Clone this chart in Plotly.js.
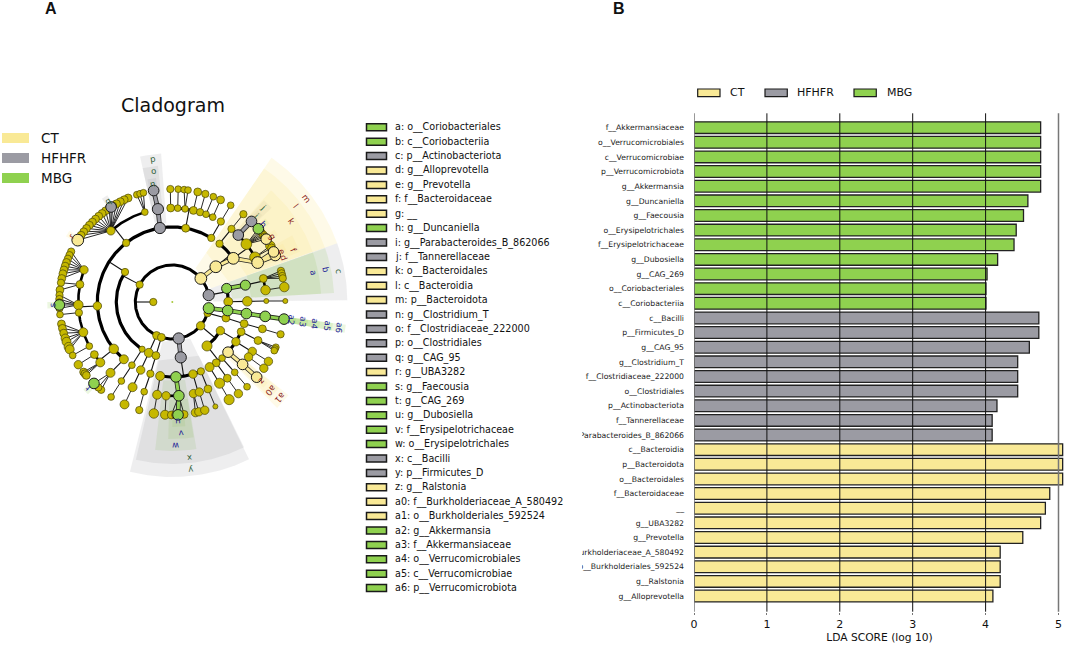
<!DOCTYPE html>
<html>
<head>
<meta charset="utf-8">
<script src="https://cdn.plot.ly/plotly-3.0.1.min.js"></script>
<style>html,body{margin:0;padding:0;background:#fff}#chart{width:1065px;height:646px}</style>
</head>
<body>
<div id="chart"></div>
<script>
// ---------- LDA bar values ----------
const mbgTaxa = ['f__Akkermansiaceae','o__Verrucomicrobiales','c__Verrucomicrobiae','p__Verrucomicrobiota','g__Akkermansia','g__Duncaniella','g__Faecousia','o__Erysipelotrichales','f__Erysipelotrichaceae','g__Dubosiella','g__CAG_269','o__Coriobacteriales','c__Coriobacteriia'];
const mbgScores = [4.755,4.755,4.755,4.755,4.755,4.58,4.52,4.42,4.39,4.165,4.02,4.005,4.005];
const hfhfrTaxa = ['c__Bacilli','p__Firmicutes_D','g__CAG_95','g__Clostridium_T','f__Clostridiaceae_222000','o__Clostridiales','p__Actinobacteriota','f__Tannerellaceae','g__Parabacteroides_B_862066'];
const hfhfrScores = [4.73,4.73,4.60,4.44,4.44,4.44,4.156,4.09,4.09];
const ctTaxa = ['c__Bacteroidia','p__Bacteroidota','o__Bacteroidales','f__Bacteroidaceae','__','g__UBA3282','g__Prevotella','f__Burkholderiaceae_A_580492','o__Burkholderiales_592524','g__Ralstonia','g__Alloprevotella'];
const ctScores = [5.057,5.057,5.057,4.88,4.82,4.755,4.51,4.20,4.20,4.20,4.10];
const scoreTicks = [0,1,2,3,4,5];

// ---------- cladogram key ----------
const keyLetters = ['a','b','c','d','e','f','g','h','i','j','k','l','m','n','o','p','q','r','s','t','u','v','w','x','y','z','a0','a1','a2','a3','a4','a5','a6'];
const keyTaxa = ['o__Coriobacteriales','c__Coriobacteriia','p__Actinobacteriota','g__Alloprevotella','g__Prevotella','f__Bacteroidaceae','__','g__Duncaniella','g__Parabacteroides_B_862066','f__Tannerellaceae','o__Bacteroidales','c__Bacteroidia','p__Bacteroidota','g__Clostridium_T','f__Clostridiaceae_222000','o__Clostridiales','g__CAG_95','g__UBA3282','g__Faecousia','g__CAG_269','g__Dubosiella','f__Erysipelotrichaceae','o__Erysipelotrichales','c__Bacilli','p__Firmicutes_D','g__Ralstonia','f__Burkholderiaceae_A_580492','o__Burkholderiales_592524','g__Akkermansia','f__Akkermansiaceae','o__Verrucomicrobiales','c__Verrucomicrobiae','p__Verrucomicrobiota'];
const keyGroups = ['M','M','H','C','C','C','C','M','H','H','C','C','C','H','H','H','H','C','M','M','M','M','M','H','H','C','C','C','M','M','M','M','M'];
// taxonomic depth of each clade marker (2 phylum .. 6 genus), its angular span and its label angle (degrees)
const keyDepth = [4,3,2,6,6,5,6,6,6,5,4,3,2,6,5,4,6,6,6,6,6,5,4,3,2,6,5,4,6,5,4,3,2];
const keyFrom  = [3.2,3.2,0.6,22.8,24.8,21.5,32.3,38.9,44,43.5,19.8,19.6,19.6,97.5,96,94.3,121.3,145.3,180,224.6,270,268.3,263.4,257,256,316.8,315.5,314.7,349.9,349.9,349.9,349.9,349.9];
const keyTo    = [19.4,19.4,19.6,25.3,27.8,29,35.3,41.9,47,48,48.5,55.5,55.5,101.5,102.5,102.5,124.3,148.3,183,227.6,276,279,279.3,296.3,296,319.8,321,321.3,352.5,352.5,352.5,352.5,352.5];
const keyAngle = [11.9,11.8,10.4,21.5,24.9,23.3,33,40.7,45.5,46.3,34.3,37.9,37.8,99.5,98.2,98.1,122.5,146.8,181.4,225.4,272.9,273.7,271.3,276.5,276.4,318.5,318,318.2,351.2,351.2,351.2,351.2,351.2];
const groupNames = {C:'CT',H:'HFHFR',M:'MBG'};

// ---------- cladogram tree: [angle in degrees, node abundance, enriched group, children] ----------
const C='C',H='H',M='M';
const bacteroidota = [39.5,10.5,C,[[39,10.5,C,[
  [51,6.5,0,[[51,6.5,0,[[51,6.5,0]]]]],
  [35.6,10.5,C,[
    [45.4,9.5,H,[[45.5,9.5,H]]],
    [38,9.5,0,[[40.4,9.5,M],[39.2,6.5,0],[38.2,6.5,0],[37.2,6.5,0],[36.2,7,0],[35.2,7,0],[33.8,9.5,C]]],
    [28.4,9.5,0,[[29.8,8.5,0],[28.6,7,0]]],
    [24.8,10.5,C,[[24.3,9.5,C],[26.3,9.5,C]]]
  ]]
]]]];
const actinobacteriota = [10.7,10,H,[
  [14,9,M,[[13,9,M,[
    [14.5,7,0,[[16,6.5,0],[14.7,6.5,0],[13.3,6.5,0],[12.1,6.5,0]]],
    [7.3,8.5,0,[[7.6,8.5,0]]]
  ]]]],
  [0.3,8,0,[[0.5,8.5,0,[[0.6,4.5,0,[[0.5,4.5,0]]]]]]]
]];
const verrucomicrobiota = [350.3,10,M,[[351.2,9.5,M,[[351.1,9.5,M,[[351.2,9.5,M,[[351.3,9.5,M]]]]]]]]];
const minorPhylum = [342.5,6.5,0,[[343.3,7,0,[[343.2,7,0,[[343.4,7,0,[[343.4,6.5,0]]]]]]]]];
const proteobacteria = [320,7.5,0,[
  [329.2,7.5,0,[
    [336.6,7,0,[[335.8,7,0,[[336.4,6,0],[335.4,6,0],[334.5,6,0]]]]],
    [328,7.5,0,[[328.3,7.5,0,[[328.3,7.5,0]]],[324.2,7.5,0,[[324.1,7.5,0]]]]],
    [318,9.5,C,[[318.4,9.5,C,[[318.3,9.5,C]]]]]
  ]],
  [308.3,9,0,[
    [311.6,6,0,[[311.6,6,0,[[311.4,6,0]]]]],
    [305.8,7,0,[[305.8,7,0,[[305.8,7.5,0]]]]],
    [299.8,8,0,[[300.2,9,0,[[300.2,9,0]]]]]
  ]]
]];
const firmicutesD = [280,10,H,[[278.7,10,H,[
  [260.7,8,0,[[260.7,8,0,[[260.6,8.5,0]]]]],
  [272.8,9.5,M,[
    [266.2,7.5,0,[[266.3,8,0]]],
    [274,9.5,M,[[269.5,7,0],[271.6,7,0],[276,7,0],[272.9,9.5,M]]]
  ]],
  [286,7.5,0,[[283,7.5,0,[[281.8,7.5,0],[283.6,7.5,0]]],[286.7,7.5,0,[[286.7,7.5,0]]]]],
  [292.4,6.5,0,[[292.3,7,0,[[292.4,4.5,0]]]]]
]]]];
const phylumB = [252.8,7,0,[[253,7,0,[[253,6.5,0,[[252.6,6,0,[[253,6.5,0]]]]]]]]];
const phylumC = [244.8,7,0,[[245.2,8,0,[[245.1,7.5,0,[[245,8,0,[[245,8,0]]]]]]]]];
const firmicutesA = [152,6.5,0,[
  [147.6,6.5,0,[
    [58.7,6.5,0,[[58.9,6.5,0,[[58.9,6,0]]]]],
    [79.7,7,0,[
      [91,7,0,[[91,6.5,0]]],[86.7,6,0,[[87,6,0]]],[82.2,6,0,[[84,6,0],[82,6,0]]],
      [77,7,0,[[77,7,0]]],[72.8,6.5,0,[[73,6.5,0]]],[69,6,0,[[68.7,6,0]]],[64.5,6,0,[[64.7,7,0]]]
    ]],
    [99.5,10,H,[[98.8,10,H,[[99.5,9.5,H]]]]],
    [128,6.5,0,[
      [107,6,0,[[108.3,6,0],[106.6,6,0],[104.8,6,0]]],
      [130.8,7.5,0,[[113,7,0],[115.2,7,0],[117.4,7,0],[119.6,7,0],[121.8,7,0],[124,7,0],[126.2,7,0],[128.4,7,0],[130.6,7,0],[132.8,7,0],[135,7,0],[137.2,7,0],[139.4,7,0],[141.6,7,0],[143.8,7,0],[122.8,9.5,H],[146.8,10.5,C]]]
    ]],
    [183,7.5,0,[
      [160,7.5,0,[[153.5,6.5,0],[155.5,6.5,0],[157.5,6.5,0],[159.5,7,0],[161.5,7,0],[163.5,7,0],[165.5,7,0],[168,7,0]]],
      [169.2,7,0,[[170.2,6.5,0],[173.9,7,0]]],
      [181.8,8.5,0,[[176.5,6.5,0],[178.5,6.5,0],[180.2,6.5,0],[181.5,9.5,M],[183.2,6.5,0]]],
      [186.5,6.5,0,[[186.4,6,0]]],
      [198.8,8,0,[[191.2,7,0],[193.5,7,0],[196,7,0],[198.7,7.5,0],[200.6,8,0],[203.4,8,0],[204.8,8,0]]],
      [208,6,0,[[208.2,6,0]]]
    ]],
    [218.7,8.5,0,[[214,7,0,[[213.7,7.5,0]]],[220,8,0,[[218.3,7,0],[219.4,7,0],[220.5,7,0]]]]],
    [229.8,8,0,[[228.9,8,0,[[231,6.5,0],[229.1,6.5,0],[226.1,9.5,M]]]]]
  ]],
  [237.4,5.5,0,[[237.4,6,0,[[237.2,6,0,[[237.2,6,0]]]]]]]
]];
const kingdom = [180,6.5,0,[actinobacteriota,bacteroidota,firmicutesA,phylumC,phylumB,firmicutesD,proteobacteria,minorPhylum,verrucomicrobiota]];

// ---------- styling and pixel layout ----------
const W=1065,Hgt=646;
const fill={C:'#F9E996',H:'#9B9BA3',M:'#8FD14F'};
const wedge={C:'rgba(249,233,150,0.22)',H:'rgba(155,155,163,0.17)',M:'rgba(143,209,79,0.17)'};
const ink={C:'#8B1A1A',H:'#2E5E36',M:'#1E1E96'};
const OLIVE='#C6B800';
const font='"DejaVu Sans", sans-serif';
const px=x=>x/W, py=y=>1-y/Hgt;
const levelRadius=[0,19,37,56,75,94,113];
const labelRadius=[0,0,169,157,144,132,120];
const wedgeOuter=[0,0,175,162,149,137,125];
const nodeScale=1.12;
const rad=d=>d*Math.PI/180;
const pol=(t,r)=>[r*Math.cos(rad(t)),r*Math.sin(rad(t))];

// ---------- geometry from tree ----------
const thin={x:[],y:[]},fan={x:[],y:[]},arcs={2:{x:[],y:[]},3:{x:[],y:[]},4:{x:[],y:[]},5:{x:[],y:[]}};
const bands={C:{x:[],y:[]},H:{x:[],y:[]},M:{x:[],y:[]}};
const nodes={0:{x:[],y:[],s:[]},C:{x:[],y:[],s:[]},H:{x:[],y:[],s:[]},M:{x:[],y:[],s:[]}};
function seg(b,a,c){const p=pol(a[0],a[1]),q=pol(c[0],c[1]);b.x.push(p[0],q[0],null);b.y.push(p[1],q[1],null);}
function walk(n,d){
  const th=n[0],sz=n[1],g=n[2],kids=n[3]||[];
  const r=levelRadius[d],p=pol(th,r);
  nodes[g].x.push(p[0]);nodes[g].y.push(p[1]);nodes[g].s.push(sz*nodeScale);
  if(!kids.length)return;
  const rc=levelRadius[d+1];
  if(d+1===6||kids.length===1){
    kids.forEach(k=>seg(d+1===6?fan:thin,[th,r],[k[0],rc]));
  }else{
    seg(thin,[th,r],[th,rc]);
    const all=kids.map(k=>k[0]).concat(th);
    const lo=Math.min(...all),hi=Math.max(...all),a=arcs[d+1];
    for(let t=lo;t<hi;t+=1){const q=pol(t,rc);a.x.push(q[0]);a.y.push(q[1]);}
    const e=pol(hi,rc);a.x.push(e[0],null);a.y.push(e[1],null);
  }
  kids.forEach(k=>{if(g&&k[2]===g)seg(bands[g],[th,r],[k[0],rc]);walk(k,d+1);});
}
walk(kingdom,1);

// ---------- traces ----------
const tree={xaxis:'x2',yaxis:'y2',hoverinfo:'skip',showlegend:false,cliponaxis:false};
const traces=[];
keyLetters.forEach((l,i)=>{
  const g=keyGroups[i],d=keyDepth[i],inner=levelRadius[d]+4,outer=wedgeOuter[d],xs=[],ys=[];
  const a0=keyFrom[i],a1=keyTo[i];
  for(let t=a0;t<a1;t+=1){const q=pol(t,outer);xs.push(q[0]);ys.push(q[1]);}
  let q=pol(a1,outer);xs.push(q[0]);ys.push(q[1]);
  q=pol(a1,inner);xs.push(q[0]);ys.push(q[1]);
  q=pol(a0,inner);xs.push(q[0]);ys.push(q[1]);
  traces.push(Object.assign({type:'scatter',mode:'lines',x:xs,y:ys,fill:'toself',fillcolor:wedge[g],line:{width:0}},tree));
});
[[fan,0.9],[thin,1.1]].forEach(([b,w])=>traces.push(Object.assign({type:'scatter',mode:'lines',x:b.x,y:b.y,line:{color:'#111',width:w}},tree)));
[[2,3],[3,3.2],[4,3.2],[5,2.6]].forEach(([k,w])=>traces.push(Object.assign({type:'scatter',mode:'lines',x:arcs[k].x,y:arcs[k].y,line:{color:'#000',width:w}},tree)));
['C','H','M'].forEach(g=>{
  traces.push(Object.assign({type:'scatter',mode:'lines',x:bands[g].x,y:bands[g].y,line:{color:'#222',width:4.6}},tree));
  traces.push(Object.assign({type:'scatter',mode:'lines',x:bands[g].x,y:bands[g].y,line:{color:fill[g],width:3}},tree));
});
traces.push(Object.assign({type:'scatter',mode:'markers',x:[0],y:[0],marker:{size:2,color:'#A8C83C',opacity:1}},tree));
[0,'C','H','M'].forEach(g=>{
  traces.push(Object.assign({type:'scatter',mode:'markers',x:nodes[g].x,y:nodes[g].y,
    marker:{size:nodes[g].s,opacity:1,color:g?fill[g]:OLIVE,line:{color:g?'#1a1a1a':'#4a4608',width:g?1:0.7}}},tree));
});
// bars
const allTaxa=mbgTaxa.concat(hfhfrTaxa,ctTaxa);
[[ctTaxa,ctScores,'C'],[hfhfrTaxa,hfhfrScores,'H'],[mbgTaxa,mbgScores,'M']].forEach(([t,v,g])=>{
  traces.push({type:'bar',orientation:'h',name:groupNames[g],y:t,x:v,width:0.8,showlegend:false,
    marker:{color:fill[g],line:{color:'#222',width:1.3}},hovertemplate:'%{y}: %{x}<extra></extra>'});
});

// ---------- shapes and text ----------
const shapes=[],ann=[];
const rect=(x0,y0,x1,y1,c,lw)=>shapes.push({type:'rect',xref:'paper',yref:'paper',x0:px(x0),x1:px(x1),y0:py(y0),y1:py(y1),fillcolor:c,line:{color:lw?'#1a1a1a':c,width:lw||0},layer:'above'});
const txt=(s,x,y,size,anchor,extra)=>ann.push(Object.assign({text:s,xref:'paper',yref:'paper',x:px(x),y:py(y),showarrow:false,xanchor:anchor||'left',yanchor:'middle',borderpad:0,font:{family:font,size:size,color:'#111'}},extra||{}));

// grid lines over the bars
scoreTicks.forEach(t=>{
  const edge=(t===0||t===5);
  shapes.push({type:'line',xref:'x',yref:'paper',x0:t,x1:t,y0:py(611.7),y1:py(113.3),layer:'above',line:{color:edge?'#777':'#111',width:edge?1.5:1}});
});
// mask that trims long tick labels at the axes edge
rect(563,100,582,612,'#fff');

txt('Cladogram',172.5,105,19,'center');
['C','H','M'].forEach((g,i)=>{
  rect(2,133+i*20,29,143+i*20,fill[g]);
  txt(groupNames[g],40,138.3+i*20,13.5);
});
[['C',697.7,729],['H',765,796],['M',854,885.7]].forEach(([g,x,tx])=>{
  rect(x,89,x+22.3,96.7,fill[g],1.2);
  txt(groupNames[g],tx,92.6,11);
});
keyLetters.forEach((l,i)=>{
  const y=127.3+i*14.4;
  rect(366.5,y-3.5,386.5,y+3.5,fill[keyGroups[i]],1.5);
  txt(l+': '+keyTaxa[i],394,y,9.6);
  const q=pol(keyAngle[i],labelRadius[keyDepth[i]]);
  ann.push({text:l,xref:'x2',yref:'y2',x:q[0],y:q[1],showarrow:false,textangle:90-keyAngle[i],borderpad:0,xanchor:'center',yanchor:'middle',font:{family:font,size:8.5,color:ink[keyGroups[i]]}});
});
txt('A',51,8,16,'center',{font:{family:'"Liberation Sans", sans-serif',size:16,color:'#111',weight:700}});
txt('B',619,8,16,'center',{font:{family:'"Liberation Sans", sans-serif',size:16,color:'#111',weight:700}});

const layout={
  width:W,height:Hgt,margin:{l:0,r:0,t:0,b:0},paper_bgcolor:'#fff',plot_bgcolor:'#fff',showlegend:false,barmode:'overlay',
  annotations:ann,shapes:shapes,
  xaxis:{domain:[px(694),1],range:[0,(W-694)/72.9],tickmode:'array',tickvals:scoreTicks,ticktext:scoreTicks.map(String),
    showgrid:false,zeroline:false,showline:false,ticks:'outside',ticklen:2,tickcolor:'#777',
    tickfont:{family:font,size:11,color:'#111'},
    title:{text:'LDA SCORE (log 10)',font:{family:font,size:10.7,color:'#111'},standoff:3},automargin:false},
  yaxis:{domain:[py(611.7),py(113.3)],type:'category',categoryorder:'array',categoryarray:allTaxa,range:[33.07,-0.98],
    tickmode:'array',tickvals:allTaxa,ticktext:allTaxa,showgrid:false,zeroline:false,showline:false,ticks:'',ticklabelstandoff:9,
    tickfont:{family:font,size:7.7,color:'#222'},automargin:false},
  xaxis2:{domain:[0,px(360)],range:[-172.3,187.7],visible:false,anchor:'y2',fixedrange:true},
  yaxis2:{domain:[py(560),py(80)],range:[-258,222],visible:false,anchor:'x2',fixedrange:true}
};
Plotly.newPlot('chart',traces,layout,{displayModeBar:false,staticPlot:true});
</script>
</body>
</html>
